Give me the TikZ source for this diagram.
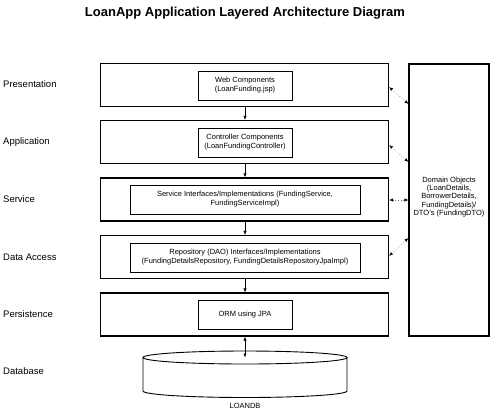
\documentclass[tikz,border=0pt]{standalone}
\usepackage{fontspec}
\setmainfont{Liberation Sans}
\usetikzlibrary{arrows.meta}
\definecolor{depcol}{RGB}{140,110,160}
\begin{document}
\begin{tikzpicture}[x=1pt,y=-1pt,
  layerbox/.style={draw, line width=1.1pt, minimum width=288pt, minimum height=43pt, inner sep=0pt},
  compbox/.style={draw, line width=0.7pt, minimum height=29pt, inner sep=1pt, align=center, font=\fontsize{7.5}{9}\selectfont},
  layerlabel/.style={anchor=west, inner sep=0pt, font=\fontsize{9.5}{11}\selectfont},
  flow/.style={line width=0.6pt, -{Latex[length=4pt,width=3.2pt]}},
  dep/.style={depcol, line width=0.6pt, dotted, {Latex[length=4pt,width=3.2pt,black]}-{Latex[length=4pt,width=3.2pt,black]}}
]
\useasboundingbox (0,0) rectangle (497,410);

% title
\node[font=\bfseries\fontsize{13}{15}\selectfont] (title) at (245,13) {LoanApp Application Layered Architecture Diagram};

% layer labels
\node[layerlabel] (lpres) at (3,84) {Presentation};
\node[layerlabel] (lapp) at (3,142) {Application};
\node[layerlabel] (lserv) at (3,199) {Service};
\node[layerlabel] (ldata) at (3,257) {Data Access};
\node[layerlabel] (lpers) at (3,314) {Persistence};
\node[layerlabel] (ldb) at (3,371) {Database};

% layer boxes
\node[layerbox] (pres) at (244.5,85) {};
\node[layerbox] (app) at (244.5,142) {};
\node[layerbox] (serv) at (244.5,199.5) {};
\node[layerbox] (data) at (244.5,257) {};
\node[layerbox] (pers) at (244.5,314.5) {};

% component boxes
\node[compbox, minimum width=94pt] (web) at (245,85.5) {Web Components\\(LoanFunding.jsp)};
\node[compbox, minimum width=94pt] (ctrl) at (245,142.5) {Controller Components\\(LoanFundingController)};
\node[compbox, minimum width=230pt] (svc) at (245,199.5) {Service Interfaces/Implementations (FundingService,\\FundingServiceImpl)};
\node[compbox, minimum width=230pt] (repo) at (245,257.5) {Repository (DAO) Interfaces/Implementations\\(FundingDetailsRepository, FundingDetailsRepositoryJpaImpl)};
\node[compbox, minimum width=94pt] (orm) at (245,314.5) {ORM using JPA};

% domain objects box
\node[draw, line width=1.1pt, minimum width=80pt, minimum height=272pt, inner sep=0pt] (dom) at (449,200) {};
\node[anchor=north, align=center, inner sep=0pt, font=\fontsize{7.5}{8.4}\selectfont] (domtext) at (449,176.5)
  {Domain Objects\\(LoanDetails,\\BorrowerDetails,\\FundingDetails)/\\DTO's (FundingDTO)};

% database cylinder
\node[minimum width=204pt, minimum height=46pt, inner sep=0pt] (db) at (245,374) {};
\coordinate (dbtop) at (245,357.5);
\draw[line width=0.9pt] (dbtop) ellipse [x radius=102pt, y radius=6.5pt];
\draw[line width=0.9pt] (143,357.5) -- (143,391) arc[start angle=180, end angle=360, x radius=102pt, y radius=6.5pt] -- (347,357.5);
\node[font=\fontsize{7.5}{9}\selectfont, inner sep=0pt] (dblabel) at (245,405.5) {LOANDB};

% flow arrows
\draw[flow] ([xshift=0.5pt]pres.south) -- ([xshift=0.5pt]app.north);
\draw[flow] ([xshift=0.5pt]app.south) -- ([xshift=0.5pt]serv.north);
\draw[flow] ([xshift=0.5pt]serv.south) -- ([xshift=0.5pt]data.north);
\draw[flow] ([xshift=0.5pt]data.south) -- ([xshift=0.5pt]pers.north);
\draw[flow, {Latex[length=4pt,width=3.2pt]}-{Latex[length=4pt,width=3.2pt]}] ([xshift=0.5pt]pers.south) -- (dbtop);

% dependency connectors
\draw[dep] (pres.east |- 0,87) -- (dom.west |- 0,104);
\draw[dep] (app.east |- 0,145) -- (dom.west |- 0,162);
\draw[dep] (serv.east |- 0,200) -- (dom.west |- 0,200);
\draw[dep] (data.east |- 0,256) -- (dom.west |- 0,238);
\end{tikzpicture}
\end{document}
